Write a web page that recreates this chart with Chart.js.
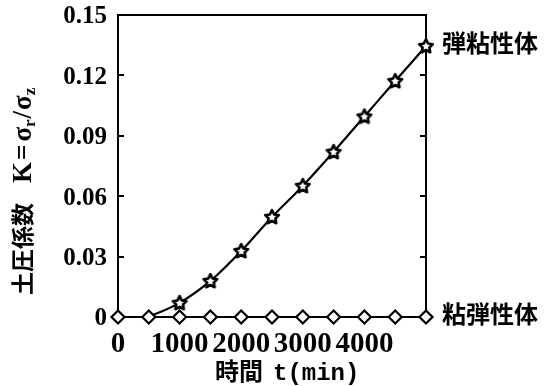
<!DOCTYPE html>
<html><head><meta charset="utf-8">
<script src="https://cdn.jsdelivr.net/npm/chart.js@4/dist/chart.umd.min.js"></script>
<style>html,body{margin:0;padding:0;background:#fff}canvas{display:block}</style>
</head><body>
<canvas id="c" width="547" height="386"></canvas>
<script>
// elapsed time (min) and earth pressure coefficient K for the two material models
const times = [0, 500, 1000, 1500, 2000, 2500, 3000, 3500, 4000, 4500, 5000];
const elastoViscousK = [null, 0, 0.0070, 0.0179, 0.0328, 0.0497, 0.0651, 0.0820, 0.0996, 0.1172, 0.1346];
const viscoElasticK = [0, 0, 0, 0, 0, 0, 0, 0, 0, 0, 0];
const seriesNames = ['弾粘性体', '粘弾性体'];
const xTickLabels = ['0', '1000', '2000', '3000', '4000', ''];
const yTickLabels = ['0', '0.03', '0.06', '0.09', '0.12', '0.15'];
const xTitleParts = ['時間', 't(min)'];
const yTitleParts = ['土圧係数', 'K', '=', 'σ', 'r', '/', 'σ', 'z'];

const SERIF = '"Liberation Serif", "Times New Roman", serif';
const CJK = '"Noto Sans CJK JP", sans-serif';
const MONO = '"Liberation Mono", monospace';

// hollow five-pointed star marker
function starMarker() {
  const cv = document.createElement('canvas');
  cv.width = 18; cv.height = 18;
  const g = cv.getContext('2d');
  const cx = 9, cy = 9.4, ro = 7.2, ri = 3.6;
  g.beginPath();
  for (let i = 0; i < 10; i++) {
    const r = i % 2 ? ri : ro;
    const a = -Math.PI / 2 + i * Math.PI / 5;
    const px = cx + r * Math.cos(a), py = cy + r * Math.sin(a);
    i ? g.lineTo(px, py) : g.moveTo(px, py);
  }
  g.closePath();
  g.fillStyle = '#fff'; g.fill();
  g.lineWidth = 2.6; g.lineJoin = 'round'; g.strokeStyle = '#000'; g.stroke();
  return cv;
}

const toPoints = (ys) => times.map((t, i) => ({x: t, y: ys[i]}));

// axis titles and series annotations (mixed fonts, subscripts)
const textPlugin = {
  id: 'texts',
  afterDraw(chart) {
    const ctx = chart.ctx;
    ctx.save();
    ctx.fillStyle = '#000';
    // y title, rotated
    ctx.save();
    ctx.translate(31, 295);
    ctx.rotate(-Math.PI / 2);
    ctx.textBaseline = 'alphabetic';
    ctx.textAlign = 'left';
    let x = 0;
    const put = (s, font, dy, gap) => {
      ctx.font = font; ctx.fillText(s, x, dy || 0);
      x += ctx.measureText(s).width + (gap || 0);
    };
    const big = 'bold 27px ' + SERIF, sub = 'bold 17px ' + SERIF;
    put(yTitleParts[0], 'bold 23px ' + CJK, 0, 20);
    put(yTitleParts[1], big, 0, 2);
    put(yTitleParts[2], big, 0, 3);
    put(yTitleParts[3], big);
    put(yTitleParts[4], sub, 4, 1);
    put(yTitleParts[5], big, 0, 1);
    put(yTitleParts[6], big);
    put(yTitleParts[7], sub, 4);
    ctx.restore();
    // x title
    ctx.textBaseline = 'alphabetic';
    ctx.textAlign = 'left';
    x = 215;
    ctx.font = 'bold 24px ' + CJK;
    ctx.fillText(xTitleParts[0], x, 380);
    x += ctx.measureText(xTitleParts[0]).width + 10;
    ctx.font = 'bold 24px ' + MONO;
    ctx.fillText(xTitleParts[1], x, 380);
    // labels at the end of each curve
    ctx.font = 'bold 24px ' + CJK;
    ctx.textBaseline = 'middle';
    chart.data.datasets.forEach((ds, di) => {
      const meta = chart.getDatasetMeta(di);
      const last = meta.data[meta.data.length - 1];
      ctx.fillText(ds.label, last.x + 16, last.y - 3);
    });
    ctx.restore();
  }
};

const axisColor = '#000';
const tickFont = (size) => ({family: SERIF, weight: 'bold', size});
const noPad = (s) => { s.paddingTop = 0; s.paddingBottom = 0; s.paddingLeft = 0; s.paddingRight = 0; };

new Chart(document.getElementById('c'), {
  type: 'line',
  data: {
    datasets: [
      {
        label: seriesNames[1],
        data: toPoints(viscoElasticK),
        borderColor: '#000', borderWidth: 2.2,
        pointStyle: 'rectRot', pointRadius: 6.5,
        pointBackgroundColor: '#fff', pointBorderColor: '#000', pointBorderWidth: 2.2,
        clip: false
      },
      {
        label: seriesNames[0],
        data: toPoints(elastoViscousK),
        borderColor: '#000', borderWidth: 2.2,
        cubicInterpolationMode: 'monotone',
        pointStyle: starMarker(),
        pointRadius: (c) => (c.raw && c.raw.y === 0 ? 0 : 6),
        clip: false
      }
    ]
  },
  options: {
    responsive: false,
    animation: false,
    events: [],
    layout: {padding: 0},
    plugins: {legend: {display: false}, tooltip: {enabled: false}},
    scales: {
      x: {
        type: 'linear', position: 'bottom', min: 0, max: 5000,
        afterFit(s) { s.height = 69; noPad(s); },
        border: {display: true, color: axisColor, width: 2},
        grid: {drawOnChartArea: false, drawTicks: true, tickLength: -7, color: axisColor, lineWidth: 2},
        ticks: {stepSize: 1000, padding: 17, color: '#000', font: tickFont(29), maxRotation: 0, autoSkip: false,
          callback: (v, i) => xTickLabels[i] ?? ''}
      },
      xTop: {
        type: 'linear', position: 'top', min: 0, max: 5000,
        afterFit(s) { s.height = 15; noPad(s); },
        border: {display: true, color: axisColor, width: 2},
        grid: {drawOnChartArea: false, drawTicks: false},
        ticks: {display: false}
      },
      y: {
        type: 'linear', position: 'left', min: 0, max: 0.15,
        afterFit(s) { s.width = 118; noPad(s); },
        border: {display: true, color: axisColor, width: 2},
        grid: {drawOnChartArea: false, drawTicks: true, tickLength: -6, color: axisColor, lineWidth: 2},
        ticks: {stepSize: 0.03, padding: 17, labelOffset: 2, color: '#000', font: tickFont(25),
          callback: (v, i) => yTickLabels[i] ?? ''}
      },
      yRight: {
        type: 'linear', position: 'right', min: 0, max: 0.15,
        afterFit(s) { s.width = 121; noPad(s); },
        border: {display: true, color: axisColor, width: 2},
        grid: {drawOnChartArea: false, drawTicks: true, tickLength: -6, color: axisColor, lineWidth: 2},
        ticks: {display: false, stepSize: 0.03}
      }
    }
  },
  plugins: [textPlugin]
});
</script>
</body></html>
